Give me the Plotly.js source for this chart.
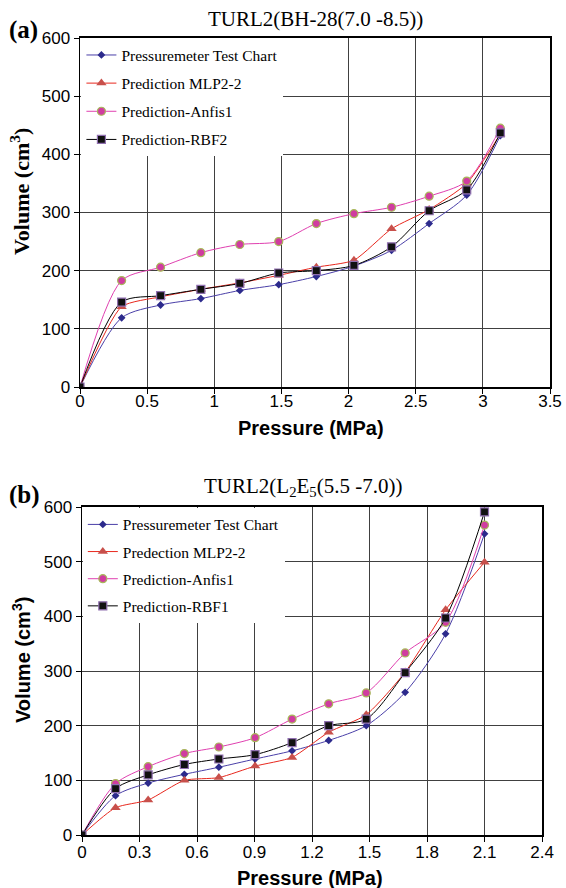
<!DOCTYPE html>
<html><head><meta charset="utf-8">
<script src="https://cdn.plot.ly/plotly-3.0.1.min.js"></script>
<style>html,body{margin:0;padding:0;background:#fff}</style>
</head><body><div id="chart" style="width:566px;height:888px"></div>
<script>
// ---- Chart (a) data ----
const aPressure = [0, 0.31, 0.60, 0.90, 1.19, 1.48, 1.76, 2.04, 2.32, 2.60, 2.88, 3.13];
const aTest  = [0, 119, 141, 152, 166, 176, 190, 208, 235, 281, 330, 432];
const aMLP   = [0, 138, 155, 168, 179, 192, 206, 218, 272, 305, 350, 435];
const aAnfis = [0, 183, 206, 231, 245, 250, 281, 298, 309, 328, 354, 445];
const aRBF   = [0, 146, 157, 168, 178, 196, 200, 209, 241, 303, 339, 437];
const aNames = ['Pressuremeter Test Chart', 'Prediction MLP2-2', 'Prediction-Anfis1', 'Prediction-RBF2'];

// ---- Chart (b) data ----
const bPressure = [0, 0.175, 0.345, 0.534, 0.714, 0.903, 1.096, 1.287, 1.483, 1.686, 1.897, 2.10];
const bTest  = [0, 72, 95, 111, 124, 139, 154, 173, 200, 261, 368, 551];
const bMLP   = [0, 50, 64, 100, 105, 126, 142, 188, 220, 298, 412, 499];
const bAnfis = [0, 94, 125, 149, 161, 178, 212, 240, 260, 333, 389, 567];
const bRBF   = [0, 85, 110, 129, 139, 147, 169, 200, 212, 297, 397, 591];
const bNames = ['Pressuremeter Test Chart', 'Predection MLP2-2', 'Prediction-Anfis1', 'Prediction-RBF1'];

const xTicksA = [0, 0.5, 1, 1.5, 2, 2.5, 3, 3.5];
const xTicksB = [0, 0.3, 0.6, 0.9, 1.2, 1.5, 1.8, 2.1, 2.4];
const yTicks = [0, 100, 200, 300, 400, 500, 600];

const styles = [
  {line:{color:'#4a3fa8', width:1, shape:'spline', smoothing:0.8}, marker:{symbol:'diamond', size:6, color:'#2c2a8c'}},
  {line:{color:'#e8281e', width:1, shape:'spline', smoothing:0.6}, marker:{symbol:'triangle-up', size:9, color:'#c8504b'}},
  {line:{color:'#e040b0', width:1, shape:'spline', smoothing:0.8}, marker:{symbol:'circle', size:8, color:'#d03ca0', line:{color:'#a8b85a', width:1.2}}},
  {line:{color:'#000000', width:1, shape:'spline', smoothing:0.8}, marker:{symbol:'square', size:8, color:'#111111', line:{color:'#9070b0', width:1.2}}}
];

const traces = [];
[aTest, aMLP, aAnfis, aRBF].forEach((ys, i) => {
  traces.push(Object.assign({type:'scatter', mode:'lines+markers', x:aPressure, y:ys, name:aNames[i],
    xaxis:'x', yaxis:'y', legend:'legend', legendgroup:'a'+i}, JSON.parse(JSON.stringify(styles[i]))));
});
[bTest, bMLP, bAnfis, bRBF].forEach((ys, i) => {
  traces.push(Object.assign({type:'scatter', mode:'lines+markers', x:bPressure, y:ys, name:bNames[i],
    xaxis:'x2', yaxis:'y2', legend:'legend2', legendgroup:'b'+i}, JSON.parse(JSON.stringify(styles[i]))));
});

const tickFont = {family:'Liberation Sans, Arial', size:17, color:'#000'};
function xax(domain, ticks, range, anchor, standoff){
  return {domain:domain, range:range, tickvals:ticks, ticktext:ticks.map(String), anchor:anchor,
    showgrid:true, gridcolor:'#404040', gridwidth:1, zeroline:false,
    showline:true, linecolor:'#000', linewidth:2, mirror:true,
    ticks:'outside', ticklen:5, tickcolor:'#000', tickfont:tickFont, ticklabelstandoff:standoff};
}
function yax(domain, anchor){
  return {domain:domain, range:[0,600], tickvals:yTicks, anchor:anchor,
    showgrid:true, gridcolor:'#404040', gridwidth:1, zeroline:false,
    showline:true, linecolor:'#000', linewidth:1.5, mirror:true,
    ticks:'outside', ticklen:5, tickcolor:'#000', tickfont:tickFont};
}
const legFont = {family:'Liberation Serif, Times New Roman', size:15.5, color:'#000'};
const serif = 'Liberation Serif, Times New Roman';
const sans = 'Liberation Sans, Arial';
const layout = {
  width:566, height:888,
  margin:{l:80, r:16, t:38, b:53},
  paper_bgcolor:'#fff', plot_bgcolor:'#fff',
  showlegend:true,
  xaxis: xax([0,1], xTicksA, [0,3.5], 'y', -7),
  yaxis: yax([0.5621,1], 'x'),
  xaxis2: xax([0.00426,0.983], xTicksB, [0,2.4], 'y2', -4),
  yaxis2: yax([0,0.4115], 'x2'),
  legend:{x:0.003, y:0.9995, xanchor:'left', yanchor:'top', bgcolor:'#fff', borderwidth:0,
    font:legFont, tracegroupgap:5, itemwidth:30},
  legend2:{x:0.006, y:0.4105, xanchor:'left', yanchor:'top', bgcolor:'#fff', borderwidth:0,
    font:legFont, tracegroupgap:4, itemwidth:30},
  annotations:[
    {text:'TURL2(BH-28(7.0 -8.5))', xref:'paper', yref:'paper', x:0.502, y:1, yshift:19, showarrow:false,
      font:{family:serif, size:21, color:'#000'}, xanchor:'center', yanchor:'middle'},
    {text:'<b>(a)</b>', xref:'paper', yref:'paper', x:-0.1553, y:1, yshift:8, showarrow:false,
      font:{family:serif, size:25, color:'#000'}, xanchor:'left', yanchor:'middle'},
    {text:'TURL2(L<sub>2</sub>E<sub>5</sub>(5.5 -7.0))', xref:'paper', yref:'paper', x:0.474, y:0.4115, yshift:20, showarrow:false,
      font:{family:serif, size:21, color:'#000'}, xanchor:'center', yanchor:'middle'},
    {text:'<b>(b)</b>', xref:'paper', yref:'paper', x:-0.1553, y:0.4115, yshift:12, showarrow:false,
      font:{family:serif, size:25, color:'#000'}, xanchor:'left', yanchor:'middle'},
    {text:'<b>Volume (cm<sup>3</sup>)</b>', xref:'paper', yref:'paper', x:-0.1277, y:0.808, textangle:-90, showarrow:false,
      font:{family:serif, size:22, color:'#000'}, xanchor:'center', yanchor:'middle'},
    {text:'<b>Volume (cm<sup>3</sup>)</b>', xref:'paper', yref:'paper', x:-0.1234, y:0.2196, textangle:-90, showarrow:false,
      font:{family:sans, size:20, color:'#000'}, xanchor:'center', yanchor:'middle'},
    {text:'<b>Pressure (MPa)</b>', xref:'paper', yref:'paper', x:0.491, y:0.5107, showarrow:false,
      font:{family:sans, size:20, color:'#000'}, xanchor:'center', yanchor:'middle'},
    {text:'<b>Pressure (MPa)</b>', xref:'paper', yref:'paper', x:0.489, y:-0.054, showarrow:false,
      font:{family:sans, size:20, color:'#000'}, xanchor:'center', yanchor:'middle'}
  ]
};
Plotly.newPlot('chart', traces, layout, {displayModeBar:false, staticPlot:true});
</script></body></html>
